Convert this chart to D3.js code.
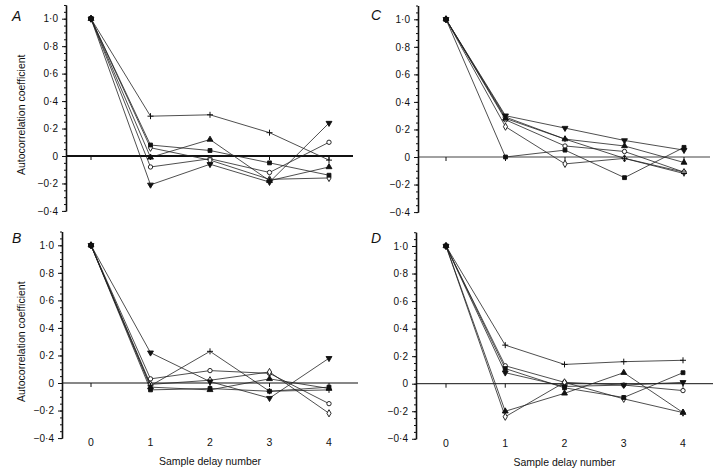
<!DOCTYPE html>
<html>
<head>
<meta charset="utf-8">
<script src="https://cdn.jsdelivr.net/npm/d3@7"></script>
<style>
  body { margin: 0; background: #fff; }
  text { font-family: "Liberation Sans", Arial, sans-serif; fill: #111; }
</style>
</head>
<body>
<div id="chart"></div>
<script>
// Sample delays on the x axis
var lags = [0, 1, 2, 3, 4];

// Y tick values and the printed labels (journal style middle dot)
var yTicks = [-0.4, -0.2, 0, 0.2, 0.4, 0.6, 0.8, 1.0];
var yTickLabels = ["\u22120\u00b74", "\u22120\u00b72", "0", "0\u00b72", "0\u00b74", "0\u00b76", "0\u00b78", "1\u00b70"];

// Marker used by each series row below (open ones first so filled sit on top)
var markers = ["circle", "diamond", "plus", "triangle", "invTriangle", "square"];

// Autocorrelation values, one row per marker, one column per lag
var panelA = [
  [1, -0.08, -0.02, -0.12, 0.10],
  [1, 0.06, -0.03, -0.17, -0.16],
  [1, 0.29, 0.30, 0.17, -0.03],
  [1, -0.01, 0.12, -0.18, -0.08],
  [1, -0.21, -0.06, -0.19, 0.24],
  [1, 0.08, 0.04, -0.05, -0.14],
];
var panelB = [
  [1, 0.03, 0.09, 0.07, -0.15],
  [1, -0.01, 0.02, 0.08, -0.22],
  [1, -0.02, 0.23, -0.06, -0.05],
  [1, -0.03, -0.05, 0.03, -0.04],
  [1, 0.22, 0.01, -0.11, 0.18],
  [1, -0.05, -0.04, -0.06, -0.03],
];
var panelC = [
  [1, 0.27, 0.08, 0.04, -0.11],
  [1, 0.22, -0.05, -0.01, -0.11],
  [1, 0.29, 0.13, -0.01, -0.12],
  [1, 0.28, 0.13, 0.08, -0.04],
  [1, 0.30, 0.21, 0.12, 0.05],
  [1, 0.00, 0.05, -0.15, 0.07],
];
var panelD = [
  [1, 0.13, 0.01, -0.01, -0.05],
  [1, -0.24, 0.01, -0.11, -0.21],
  [1, 0.28, 0.14, 0.16, 0.17],
  [1, -0.20, -0.07, 0.08, -0.21],
  [1, 0.08, -0.02, -0.01, 0.01],
  [1, 0.11, -0.03, -0.10, 0.08],
];

// Layout of the four panels (pixel positions)
var panels = [
  { letter: "A", data: panelA, axisX: 66, x0: 91, x4: 329, yOne: 18.7, yZero: 156, zeroEnd: 353, zeroWidth: 2, xLabels: false, yTitle: true, letterX: 12, letterY: 21 },
  { letter: "B", data: panelB, axisX: 62, x0: 91, x4: 329, yOne: 245.3, yZero: 383, zeroEnd: 358, zeroWidth: 1.2, xLabels: true, yTitle: true, letterX: 12, letterY: 243 },
  { letter: "C", data: panelC, axisX: 418, x0: 446, x4: 684, yOne: 19.3, yZero: 157, zeroEnd: 710, zeroWidth: 0.8, xLabels: false, yTitle: false, letterX: 371, letterY: 20 },
  { letter: "D", data: panelD, axisX: 416, x0: 446, x4: 683, yOne: 246, yZero: 383.7, zeroEnd: 713, zeroWidth: 1, xLabels: true, yTitle: false, letterX: 371, letterY: 243 },
];

var svgWidth = 720;
var svgHeight = 472;

var svg = d3
  .select("#chart")
  .append("svg")
  .attr("width", svgWidth)
  .attr("height", svgHeight);

// Symbol generator for each marker type
var symbolSize = 15;
function drawMarker(g, type, x, y) {
  if (type === "plus") {
    g.append("path")
      .attr("d", `M${x - 3},${y}H${x + 3}M${x},${y - 3}V${y + 3}`)
      .attr("stroke", "#111")
      .attr("stroke-width", 1)
      .attr("fill", "none");
    return;
  }
  var shapes = {
    square: d3.symbolSquare,
    triangle: d3.symbolTriangle,
    invTriangle: d3.symbolTriangle,
    circle: d3.symbolCircle,
    diamond: d3.symbolDiamond,
  };
  var open = type === "circle" || type === "diamond";
  var rot = type === "invTriangle" ? 180 : 0;
  g.append("path")
    .attr("d", d3.symbol().type(shapes[type]).size(symbolSize)())
    .attr("transform", `translate(${x},${y}) rotate(${rot})`)
    .attr("fill", open ? "#fff" : "#111")
    .attr("stroke", "#111")
    .attr("stroke-width", 0.9);
}

panels.forEach((p) => {
  var unit = p.yZero - p.yOne;

  // x scale: lag number to pixel
  var xScale = d3.scaleLinear().domain([0, 4]).range([p.x0, p.x4]);

  // y scale: axis runs from -0.4 up to 1.1
  var yScale = d3
    .scaleLinear()
    .domain([-0.4, 1.1])
    .range([p.yZero + 0.4 * unit, p.yZero - 1.1 * unit]);

  var g = svg.append("g");

  // Minor ticks along the y axis
  g.append("g")
    .attr("transform", `translate(${p.axisX},0)`)
    .call(
      d3.axisLeft(yScale)
        .tickValues(d3.range(-0.4, 1.101, 0.05))
        .tickSize(2)
        .tickSizeOuter(0)
        .tickFormat("")
    )
    .call((a) => a.selectAll("line,path").attr("stroke", "#111"));

  // Major ticks and labels
  g.append("g")
    .attr("transform", `translate(${p.axisX},0)`)
    .call(
      d3.axisLeft(yScale)
        .tickValues(yTicks)
        .tickSize(4)
        .tickSizeOuter(0)
        .tickPadding(4)
        .tickFormat((d, i) => yTickLabels[i])
    )
    .call((a) => {
      a.select(".domain").attr("stroke", "#111").attr("stroke-width", 1.6);
      a.selectAll("line").attr("stroke", "#111");
      a.selectAll("text")
        .style("font-family", '"Liberation Sans", Arial, sans-serif')
        .style("font-size", "10px")
        .attr("fill", "#111");
    });

  // Zero reference line
  g.append("line")
    .attr("x1", p.axisX)
    .attr("x2", p.zeroEnd)
    .attr("y1", yScale(0))
    .attr("y2", yScale(0))
    .attr("stroke", "#111")
    .attr("stroke-width", p.zeroWidth);

  // Small ticks on the zero line at each lag
  g.selectAll(null)
    .data(lags)
    .enter()
    .append("line")
    .attr("x1", (d) => xScale(d))
    .attr("x2", (d) => xScale(d))
    .attr("y1", yScale(0))
    .attr("y2", yScale(0) + 4)
    .attr("stroke", "#111")
    .attr("stroke-width", 1);

  // Series lines
  var line = d3
    .line()
    .x((d, i) => xScale(lags[i]))
    .y((d) => yScale(d));

  p.data.forEach((row) => {
    g.append("path")
      .attr("d", line(row))
      .attr("fill", "none")
      .attr("stroke", "#222")
      .attr("stroke-width", 0.8);
  });

  // Series markers
  p.data.forEach((row, s) => {
    row.forEach((v, i) => {
      drawMarker(g, markers[s], xScale(lags[i]), yScale(v));
    });
  });

  // Panel letter
  g.append("text")
    .attr("x", p.letterX)
    .attr("y", p.letterY)
    .style("font-size", "14px")
    .style("font-style", "italic")
    .text(p.letter);

  // Y axis title
  if (p.yTitle) {
    var mid = (yScale(-0.4) + yScale(1.0)) / 2;
    g.append("text")
      .attr("transform", `translate(25, ${mid}) rotate(-90)`)
      .attr("text-anchor", "middle")
      .style("font-size", "10.5px")
      .text("Autocorrelation coefficient");
  }

  // X tick labels and title on the bottom row
  if (p.xLabels) {
    g.selectAll(null)
      .data(lags)
      .enter()
      .append("text")
      .attr("x", (d) => xScale(d))
      .attr("y", yScale(-0.4) + 8)
      .attr("text-anchor", "middle")
      .style("font-size", "10.5px")
      .text((d) => d);

    g.append("text")
      .attr("x", xScale(2))
      .attr("y", yScale(-0.4) + 27)
      .attr("text-anchor", "middle")
      .style("font-size", "10.5px")
      .text("Sample delay number");
  }
});
</script>
</body>
</html>
